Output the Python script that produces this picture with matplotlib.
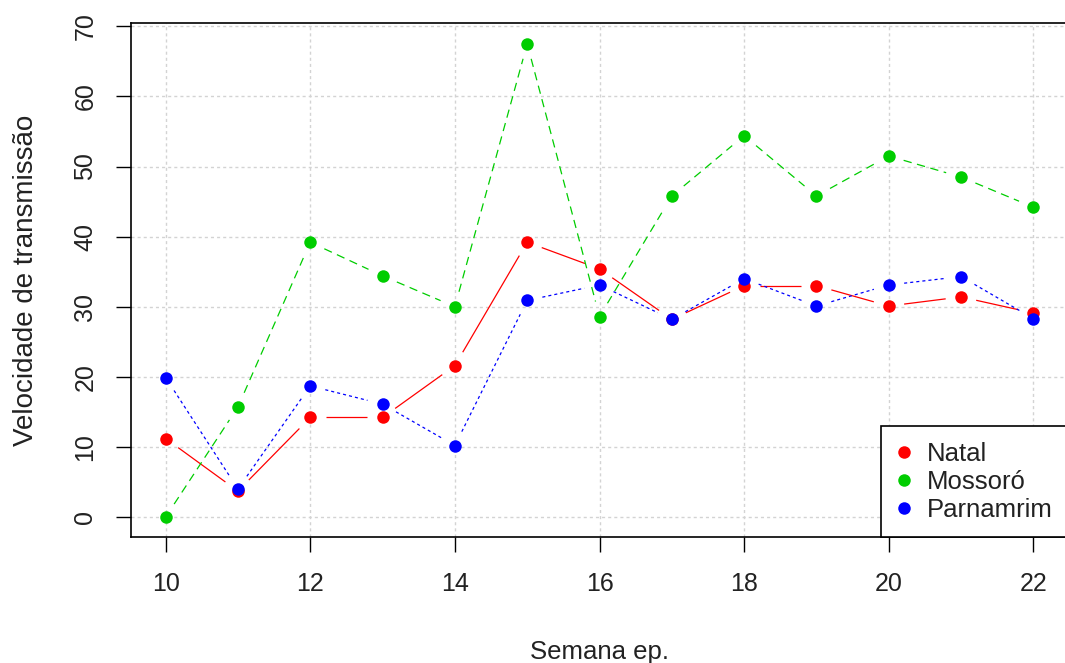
import matplotlib
matplotlib.use("Agg")
import numpy as np
import matplotlib.pyplot as plt
from matplotlib.lines import Line2D
from matplotlib.collections import LineCollection

plt.rcParams['font.family'] = ['Liberation Sans', 'DejaVu Sans']
plt.rcParams['lines.scale_dashes'] = False

weeks = [10, 11, 12, 13, 14, 15, 16, 17, 18, 19, 20, 21, 22]
natal = [11.2, 3.7, 14.2, 14.2, 21.6, 39.2, 35.4, 28.2, 33.0, 33.0, 30.1, 31.4, 29.1]
mossoro = [0.0, 15.7, 39.2, 34.4, 30.0, 67.5, 28.6, 45.8, 54.4, 45.8, 51.5, 48.5, 44.2]
parnamrim = [19.9, 4.0, 18.7, 16.1, 10.2, 30.9, 33.1, 28.2, 34.0, 30.1, 33.1, 34.3, 28.3]
series_names = ["Natal", "Mossoró", "Parnamrim"]
x_ticks = [10, 12, 14, 16, 18, 20, 22]
y_ticks = [0, 10, 20, 30, 40, 50, 60, 70]

colors = ["#FF0000", "#00CD00", "#0000FF"]
styles = ['-', (0, (6, 4)), (0, (2.2, 2.2))]

W, H = 1065, 663
fig = plt.figure(figsize=(W / 100, H / 100), dpi=100)
left, right, top, bottom = 130.7, 1068.3, 23.3, 537.0
ax = fig.add_axes([left / W, 1 - bottom / H, (right - left) / W, (bottom - top) / H])

ax.set_xlim(9.517, 22.483)
ax.set_ylim(-2.85, 70.43)

# grid (R grid(): lightgray dotted)
for xt in x_ticks:
    ax.axvline(xt, color="#D3D3D3", lw=1.0, linestyle=(0, (2.2, 2.2)), zorder=0)
for yt in y_ticks:
    ax.axhline(yt, color="#D3D3D3", lw=1.0, linestyle=(0, (2.2, 2.2)), zorder=0)


def gapped_segments(xs, ys, gap_px=15.5):
    """R type='b': segments between points with a gap around each point."""
    pts = ax.transData.transform(np.column_stack([xs, ys]))
    inv = ax.transData.inverted()
    segs = []
    for p0, p1 in zip(pts[:-1], pts[1:]):
        d = p1 - p0
        L = np.hypot(*d)
        if L <= 2 * gap_px:
            continue
        u = d / L
        a = inv.transform(p0 + u * gap_px)
        b = inv.transform(p1 - u * gap_px)
        segs.append([a, b])
    return segs


for ys, c, ls in zip([natal, mossoro, parnamrim], colors, styles):
    lc = LineCollection(gapped_segments(weeks, ys), colors=c, linewidths=0.9,
                        linestyles=ls, zorder=2)
    ax.add_collection(lc)
    ax.plot(weeks, ys, 'o', color=c, ms=9, mew=0, zorder=3)

ax.set_xticks(x_ticks)
ax.set_yticks(y_ticks)
ax.set_yticklabels([str(v) for v in y_ticks], rotation=90, va='center')
ax.tick_params(axis='both', direction='out', length=11, width=1.0, labelsize=18,
               colors='black', labelcolor='#222222')
ax.tick_params(axis='x', pad=14)
ax.tick_params(axis='y', pad=13)

for s in ['left', 'bottom', 'top', 'right']:
    ax.spines[s].set_linewidth(1.2)
    ax.spines[s].set_color('black')

ax.set_xlabel("Semana ep.", fontsize=18.5, color='#222222', labelpad=32)
ax.set_ylabel("Velocidade de transmissão", fontsize=20, color='#222222', labelpad=25)

handles = [Line2D([], [], linestyle='none', marker='o', color=c, ms=9, mew=0) for c in colors]
leg = ax.legend(handles, series_names, loc='lower right', bbox_to_anchor=(1, 0),
                borderaxespad=0, fancybox=False, framealpha=1, edgecolor='black',
                fontsize=18.5, handlelength=0.6, handletextpad=0.6, labelspacing=0.15,
                borderpad=0.6)
leg.get_frame().set_linewidth(1.2)
for t in leg.get_texts():
    t.set_color('#222222')

fig.savefig("out.png", dpi=100)
